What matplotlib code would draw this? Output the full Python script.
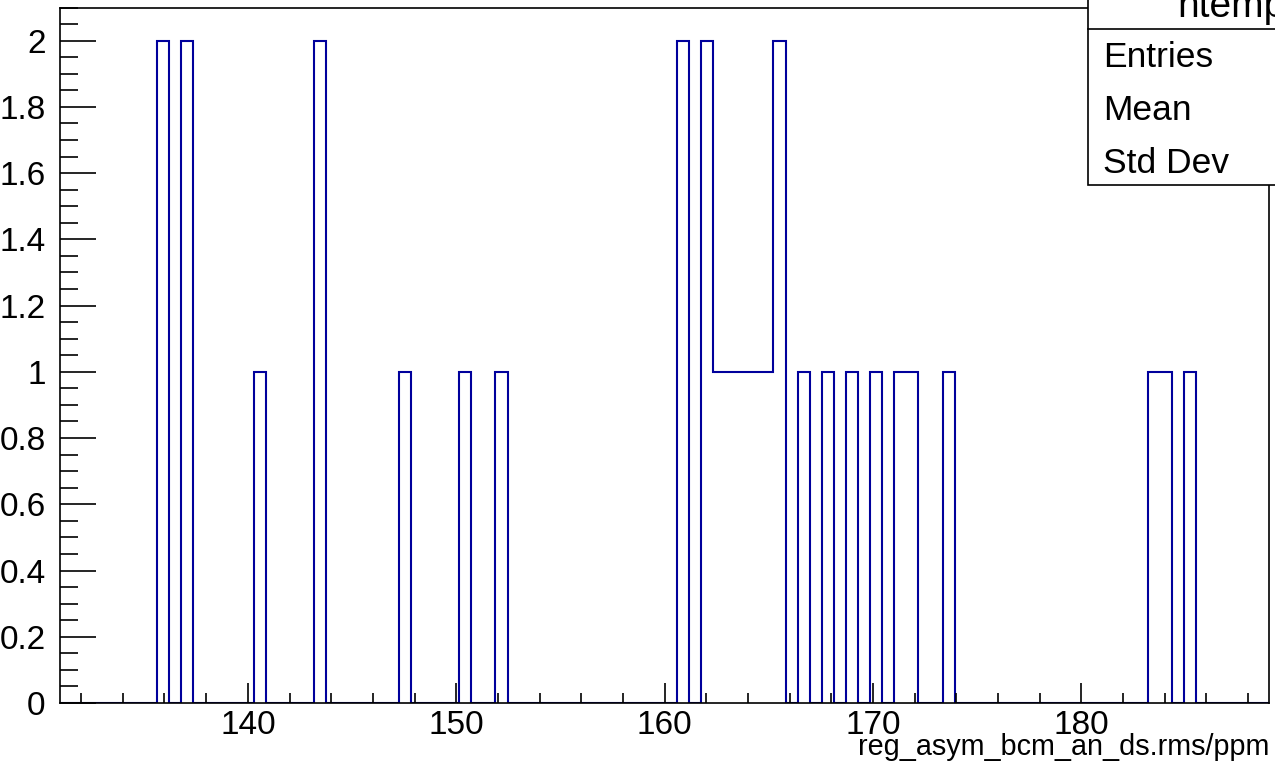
import numpy as np
import matplotlib
matplotlib.use("Agg")
import matplotlib.pyplot as plt
from matplotlib.ticker import MultipleLocator
from matplotlib.patches import Rectangle

plt.rcParams['font.family'] = ['Liberation Sans', 'DejaVu Sans']

# histogram binning (ROOT style: 100 bins)
x_min = 131.0
x_max = 189.0
n_bins = 100

# non-empty bins
bin_index = [8, 10, 16, 21, 28, 33, 36, 51, 53, 54, 55, 56, 57, 58, 59,
             61, 63, 65, 67, 69, 70, 73, 90, 91, 93]
bin_count = [2, 2, 1, 2, 1, 1, 1, 2, 2, 1, 1, 1, 1, 1, 2,
             1, 1, 1, 1, 1, 1, 1, 1, 1, 1]

x_title = "reg_asym_bcm_an_ds.rms/ppm"
stat_names = ["Entries", "Mean", "Std Dev"]
hist_name = "htemp"

W, H = 1275, 765
fig = plt.figure(figsize=(W / 100, H / 100), dpi=100)
# axes frame in pixels: left 60, right 1269, top 7.5, bottom 703
ax = fig.add_axes([60.3 / W, (H - 703) / H, (1269 - 60.3) / W, (703 - 7.5) / H])

edges = np.linspace(x_min, x_max, n_bins + 1)
counts = np.zeros(n_bins)
counts[bin_index] = bin_count
ax.stairs(counts, edges, color='#00009c', lw=1.5, baseline=0)

ax.set_xlim(x_min, x_max)
ax.set_ylim(0, 2.1)

ax.xaxis.set_major_locator(MultipleLocator(10))
ax.xaxis.set_minor_locator(MultipleLocator(2))
ax.yaxis.set_major_locator(MultipleLocator(0.2))
ax.yaxis.set_minor_locator(MultipleLocator(0.05))
ax.yaxis.set_major_formatter(plt.FuncFormatter(lambda v, p: ('%g' % round(v, 2))))

ax.tick_params(axis='both', which='both', direction='in', top=False, right=False,
               labelsize=24, width=1.2)
ax.tick_params(axis='x', which='major', length=14.5, pad=5)
ax.tick_params(axis='x', which='minor', length=7.2)
ax.tick_params(axis='y', which='major', length=26, pad=10.5)
ax.tick_params(axis='y', which='minor', length=13)
for s in ax.spines.values():
    s.set_linewidth(1.2)

# axis title, right aligned at the end of the axis
fig.text(1269 / W, 1 - 755 / H, x_title, ha='right', va='baseline', fontsize=20.7)

# stats box (partly outside the canvas)
box = Rectangle((1088 / W, 1 - 185 / H), 0.2, 185 / H + 0.05, transform=fig.transFigure,
                facecolor='white', edgecolor='black', lw=1.2, zorder=5)
fig.patches.append(box)
fig.add_artist(plt.Line2D([1088 / W, 1.0], [1 - 29 / H, 1 - 29 / H],
                          transform=fig.transFigure, color='black', lw=1.2, zorder=6))
fig.text(1177 / W, 1 - 17 / H, hist_name, ha='left', va='baseline', fontsize=28, zorder=7)
for i, name in enumerate(stat_names):
    fig.text(1103 / W, 1 - (67 + 53 * i) / H, name, ha='left', va='baseline',
             fontsize=25.5, zorder=7)

fig.savefig("out.png", dpi=100)
